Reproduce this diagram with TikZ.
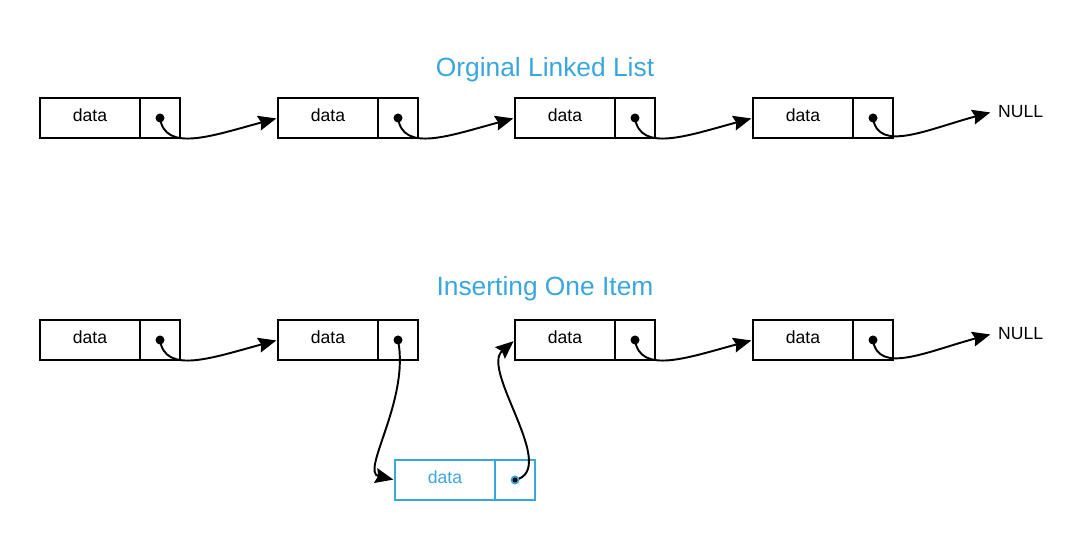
\documentclass[tikz,border=0pt]{standalone}
\usepackage{fontspec}
\setsansfont{Liberation Sans}
\usetikzlibrary{positioning,arrows.meta}
\definecolor{listblue}{HTML}{3AA6DE}
\tikzset{
	cell/.style={draw, line width=1.1pt, minimum height=0.8cm, inner sep=0pt, outer sep=0pt, text depth=0.12cm, font=\sffamily\fontsize{10}{12}\selectfont},
	databox/.style={cell, minimum width=2cm},
	ptrbox/.style={cell, minimum width=0.8cm},
	link/.style={line width=1.1pt, shorten >=1pt, -{Stealth[length=0.36cm, width=0.3cm, inset=0.05cm]}},
	title/.style={text=listblue, font=\sffamily\fontsize{15}{18}\selectfont}
}
\begin{document}
\begin{tikzpicture}
		\useasboundingbox (0,0) rectangle (21.84,10.8);
		%Titel
		\node[title] (t1) at (10.9,9.4) {Orginal Linked List};
		\node[title] (t2) at (10.9,5.02) {Inserting One Item};
		%Liste oben und unten
		\foreach \i/\x in {1/1.8, 2/6.56, 3/11.3, 4/16.06} {
			\node[databox] (td\i) at (\x,8.44) {data};
			\node[ptrbox, right=0pt of td\i] (tp\i) {};
			\fill (tp\i.center) circle [radius=0.09];
			\node[databox] (bd\i) at (\x,4.0) {data};
			\node[ptrbox, right=0pt of bd\i] (bp\i) {};
			\fill (bp\i.center) circle [radius=0.09];
		}
		\node[font=\sffamily\fontsize{10}{12}\selectfont, anchor=west] (tnull) at (19.84,8.56) {NULL};
		\node[font=\sffamily\fontsize{10}{12}\selectfont, anchor=west] (bnull) at (19.84,4.12) {NULL};
		%Zeiger
		\foreach \i/\j in {1/2, 2/3, 3/4} {
			\draw[link] (tp\i.center) .. controls +(0.1,-0.7) and +(-1.3,-0.35) .. (td\j.west);
		}
		\foreach \i/\j in {1/2, 3/4} {
			\draw[link] (bp\i.center) .. controls +(0.1,-0.7) and +(-1.3,-0.35) .. (bd\j.west);
		}
		\draw[link] (tp4.center) .. controls +(0.1,-0.7) and +(-1.3,-0.35) .. (tnull.west);
		\draw[link] (bp4.center) .. controls +(0.1,-0.7) and +(-1.3,-0.35) .. (bnull.west);
		%Neues Element
		\node[databox, draw=listblue, text=listblue] (nd) at (8.9,1.2) {data};
		\node[ptrbox, draw=listblue, right=0pt of nd] (np) {};
		\draw[link] (bp2.center) .. controls +(0.24,-1.2) and +(-0.7,0.16) .. (nd.west);
		\draw[link] (np.center) .. controls +(0.9,0.2) and +(-0.7,-0.6) .. (bd3.west);
		\fill[listblue] (np.center) circle [radius=0.09];
		\fill[black] (np.center) circle [radius=0.05];
\end{tikzpicture}
\end{document}
